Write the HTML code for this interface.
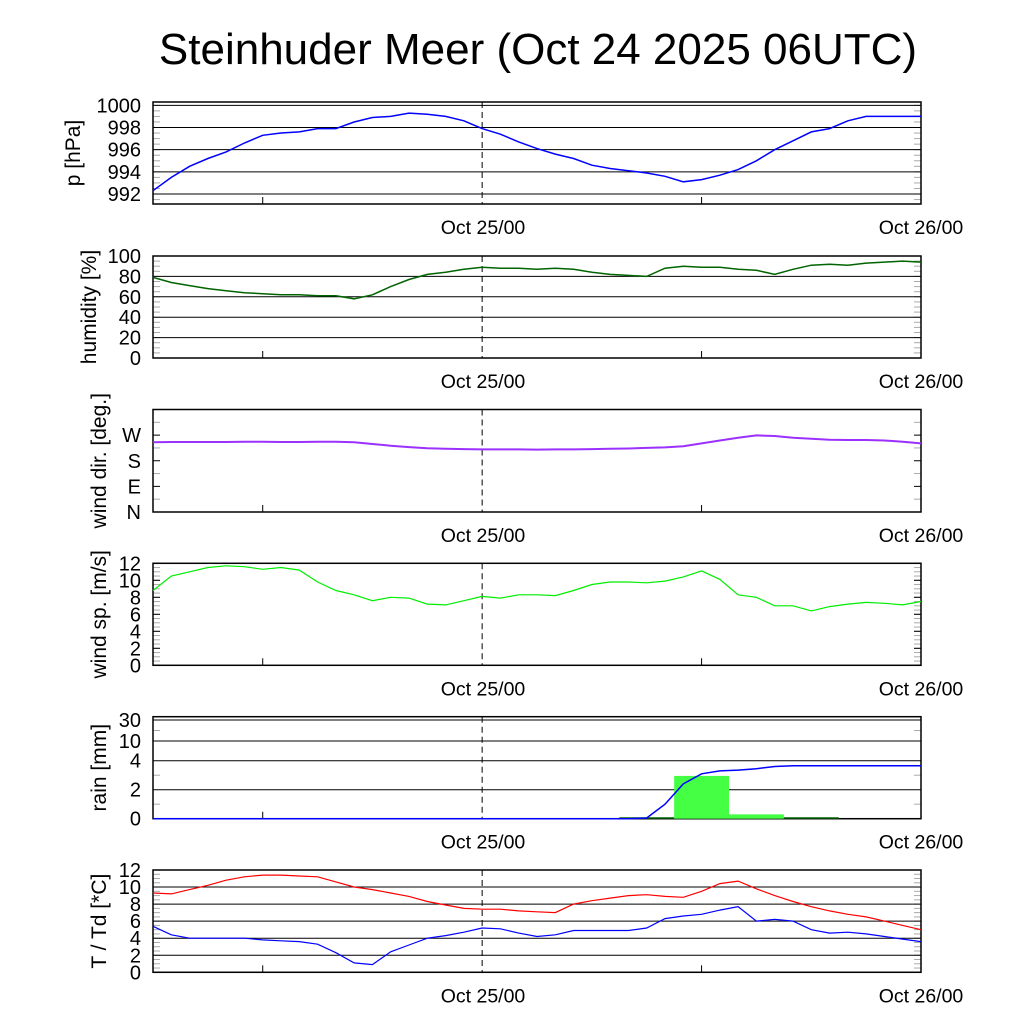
<!DOCTYPE html>
<html><head><meta charset="utf-8"><style>
html,body{margin:0;padding:0;background:#fff;}
svg{display:block;font-family:"Liberation Sans",sans-serif;}
</style></head><body>
<svg id="chart" width="1024" height="1024" viewBox="0 0 1024 1024">
<text x="538" y="64" font-size="44" text-anchor="middle">Steinhuder Meer (Oct 24 2025 06UTC)</text>
</svg>
<script>
// hours since Oct 24 06UTC
const hours = [0,1,2,3,4,5,6,7,8,9,10,11,12,13,14,15,16,17,18,19,20,21,22,23,24,25,26,27,28,29,30,31,32,33,34,35,36,37,38,39,40,41,42];
const pressure = [992.3,993.5,994.5,995.2,995.8,996.6,997.3,997.5,997.6,997.9,997.9,998.5,998.9,999.0,999.3,999.2,999.0,998.6,997.9,997.4,996.7,996.1,995.6,995.2,994.6,994.3,994.1,993.9,993.6,993.1,993.3,993.7,994.2,995.0,996.0,996.8,997.6,997.9,998.6,999.0,999.0,999.0,999.0];
const humidity = [79,74,71,68,66,64,63,62,62,61,61,58,62,70,77,82,84,87,89,88,88,87,88,87,84,82,81,80,88,90,89,89,87,86,82,87,91,92,91,93,94,95,94];
const windDir = [245,246,246,246,246,247,247,246,246,247,247,245,239,233,228,224,222,221,220,220,220,219,220,220,221,222,223,225,227,231,241,251,261,269,267,261,257,254,253,253,251,247,241];
const windSpeed = [8.8,10.5,11.0,11.5,11.7,11.6,11.3,11.5,11.2,9.8,8.8,8.3,7.6,8.0,7.9,7.2,7.1,7.6,8.1,7.9,8.3,8.3,8.2,8.8,9.5,9.8,9.8,9.7,9.9,10.4,11.1,10.1,8.3,8.0,7.0,7.0,6.4,6.9,7.2,7.4,7.3,7.1,7.5];
const rainCum = [0,0,0,0,0,0,0,0,0,0,0,0,0,0,0,0,0,0,0,0,0,0,0,0,0,0,0,0.05,1.0,2.4,3.1,3.3,3.35,3.45,3.6,3.65,3.65,3.65,3.65,3.65,3.65,3.65,3.65];
const rainBarStart = [25.5,28.5,31.5,34.5];
const rainBarValue = [0,2.95,0.3,0];
const temperature = [9.3,9.2,9.7,10.2,10.8,11.2,11.4,11.4,11.3,11.2,10.6,10.0,9.7,9.3,8.9,8.3,7.9,7.5,7.4,7.4,7.2,7.1,7.0,8.0,8.4,8.7,9.0,9.1,8.9,8.8,9.5,10.4,10.7,9.8,9.0,8.3,7.7,7.2,6.8,6.5,6.0,5.5,5.0];
const dewpoint = [5.4,4.4,4.0,4.0,4.0,4.0,3.8,3.7,3.6,3.3,2.3,1.1,0.9,2.4,3.2,4.0,4.3,4.7,5.2,5.1,4.6,4.2,4.4,4.9,4.9,4.9,4.9,5.2,6.3,6.6,6.8,7.3,7.7,6.0,6.2,6.0,5.0,4.6,4.7,4.5,4.2,3.9,3.6];
const pTicks = [992,994,996,998,1000];
const hTicks = [0,20,40,60,80,100];
const dirTickVals = [0,90,180,270];
const dirTickLabels = ["N","E","S","W"];
const wsTicks = [0,2,4,6,8,10,12];
const rainTicks = [0,2,4,10,30];
const tTicks = [0,2,4,6,8,10,12];

const svg = document.getElementById('chart');
const NS = 'http://www.w3.org/2000/svg';
const X0 = 153, X1 = 921, HMAX = 42;
function xs(h){ return X0 + (X1 - X0) * h / HMAX; }
function mk(tag, attrs, parent){
  const e = document.createElementNS(NS, tag);
  for (const k in attrs) e.setAttribute(k, attrs[k]);
  (parent || svg).appendChild(e);
  return e;
}
function linScale(lo, hi, top, bot){ return v => bot - (v - lo) / (hi - lo) * (bot - top); }
const rainVals = [0,2,4,10,30];
function rainY(v){
  const ys = [818.7,789.7,760.7,741,720];
  if (v <= 0) return ys[0];
  for (let i = 1; i < rainVals.length; i++){
    if (v <= rainVals[i]){
      const t = (v - rainVals[i-1]) / (rainVals[i] - rainVals[i-1]);
      return ys[i-1] + t * (ys[i] - ys[i-1]);
    }
  }
  return ys[4];
}

function panel(name, top, bot, yfn, ticks, labels, grid, minor, ylabel, ylabelX){
  const g = mk('g', {});
  
  
  minor.forEach(v => {
    const y = yfn(v);
    const t1 = mk('line', {x1: X0, x2: X0 + 7, y1: y, y2: y, stroke: '#aaa', 'stroke-width': 1}, g);
    
    
    const t2 = mk('line', {x1: X1 - 7, x2: X1, y1: y, y2: y, stroke: '#aaa', 'stroke-width': 1}, g);
    
    
  });
  ticks.forEach((v, i) => {
    const y = yfn(v);
    if (grid) {
      const gl = mk('line', {x1: X0, x2: X1, y1: y, y2: y, stroke: '#000', 'stroke-width': 1}, g);
      
      
    } else {
      const t1 = mk('line', {x1: X0, x2: X0 + 7, y1: y, y2: y, stroke: '#000', 'stroke-width': 1}, g);
      
      
      const t2 = mk('line', {x1: X1 - 7, x2: X1, y1: y, y2: y, stroke: '#000', 'stroke-width': 1}, g);
      
      
    }
    const tx = mk('text', {x: 141, y: y + 7, 'font-size': 20, 'text-anchor': 'end'}, g);
    tx.textContent = labels[i];
    
    
  });
  [6, 30].forEach(h => {
    const t = mk('line', {x1: xs(h), x2: xs(h), y1: bot, y2: bot - 7, stroke: '#000', 'stroke-width': 1}, g);
    
    
  });
  const dl = mk('line', {x1: xs(18), x2: xs(18), y1: top, y2: bot, stroke: '#000', 'stroke-width': 1, 'stroke-dasharray': '6,4'}, g);
  
  
  const fr = mk('rect', {x: X0, y: top, width: X1 - X0, height: bot - top, fill: 'none', stroke: '#000', 'stroke-width': 1.5}, g);
  
  
  const l1 = mk('text', {x: 483, y: bot + 30, 'font-size': 19.5, 'text-anchor': 'middle'}, g);
  l1.textContent = 'Oct 25/00';
  
  
  const l2 = mk('text', {x: 921, y: bot + 30, 'font-size': 19.5, 'text-anchor': 'middle'}, g);
  l2.textContent = 'Oct 26/00';
  
  
  const yl = mk('text', {x: 0, y: 0, 'font-size': 21, 'text-anchor': 'middle', transform: 'translate(' + ylabelX + ',' + ((top + bot) / 2) + ') rotate(-90)'}, g);
  yl.textContent = ylabel;
  
  
  return g;
}
function series(vals, yfn, color, name, width){
  const d = vals.map((v, i) => (i ? 'L' : 'M') + xs(hours[i]).toFixed(1) + ',' + yfn(v).toFixed(1)).join(' ');
  const p = mk('path', {d: d, fill: 'none', stroke: color, 'stroke-width': width || 1.3});
  
  
}
function range(a, b, s){ const r = []; for (let v = a; v <= b + 1e-9; v += s) r.push(v); return r; }

const pY = linScale(991.1, 1000.3, 102, 204);
panel('pressure', 102, 204, pY, pTicks, pTicks.map(String), true, range(991.5, 1000, 0.5), 'p [hPa]', 80);
series(pressure, pY, '#0000ff', 'pressure-line', 1.5);

const hY = linScale(0, 100, 256, 358);
panel('humidity', 256, 358, hY, hTicks, hTicks.map(String), true, range(0, 100, 5), 'humidity [%]', 96);
series(humidity, hY, '#006400', 'humidity-line', 1.5);

const dY = linScale(0, 360, 409.5, 512);
panel('wind-direction', 409.5, 512, dY, dirTickVals, dirTickLabels, false, [45,135,225,315], 'wind dir. [deg.]', 106);
series(windDir, dY, '#9b30ff', 'wind-direction-line', 2);

const sY = linScale(0, 12, 563.3, 665.3);
panel('wind-speed', 563.3, 665.3, sY, wsTicks, wsTicks.map(String), false, range(0, 12, 0.5), 'wind sp. [m/s]', 106);
series(windSpeed, sY, '#00ee00', 'wind-speed-line', 1.2);

panel('rain', 716.7, 818.7, rainY, rainTicks, rainTicks.map(String), true, [1,3,20], 'rain [mm]', 106);
rainBarStart.forEach((h, i) => {
  const v = rainBarValue[i];
  if (v > 0) {
    const r = mk('rect', {x: xs(h), y: rainY(v), width: xs(h + 3) - xs(h), height: rainY(0) - rainY(v), fill: '#44ff44'});
    
    
  } else {
    const l = mk('line', {x1: xs(h), x2: xs(h + 3), y1: rainY(0) - 0.7, y2: rainY(0) - 0.7, stroke: '#006400', 'stroke-width': 1.5});
    
    
  }
});
series(rainCum, rainY, '#0000ff', 'rain-cumulative-line', 1.5);

const tY = linScale(0, 12, 870, 972.3);
panel('temperature', 870, 972.3, tY, tTicks, tTicks.map(String), true, range(0, 12, 0.5), 'T / Td [*C]', 106);
series(temperature, tY, '#ff0000', 'temperature-line', 1.2);
series(dewpoint, tY, '#0000ff', 'dewpoint-line', 1.2);
</script>
</body></html>
